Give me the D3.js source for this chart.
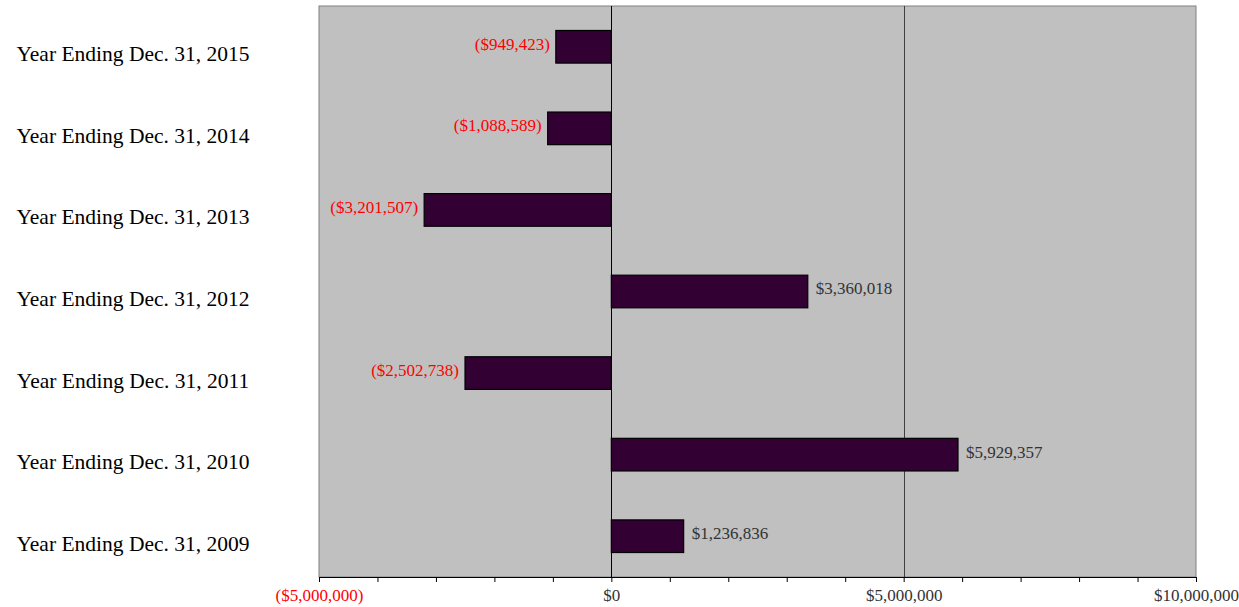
<!DOCTYPE html>
<html>
<head>
<meta charset="utf-8">
<script src="https://cdn.jsdelivr.net/npm/d3@7"></script>
<style>
  html, body { margin: 0; padding: 0; background: #fff; }
  svg { display: block; }
  text { font-family: "Liberation Serif", "Times New Roman", serif; }
</style>
</head>
<body>
<svg id="chart" width="1239" height="607"></svg>
<script>
const categories = [
  "Year Ending Dec. 31, 2015",
  "Year Ending Dec. 31, 2014",
  "Year Ending Dec. 31, 2013",
  "Year Ending Dec. 31, 2012",
  "Year Ending Dec. 31, 2011",
  "Year Ending Dec. 31, 2010",
  "Year Ending Dec. 31, 2009"
];
const values = [-949423, -1088589, -3201507, 3360018, -2502738, 5929357, 1236836];
const xDomain = [-5000000, 10000000];
const tickValues = d3.range(-5000000, 10000001, 1000000);
const labelledTicks = [-5000000, 0, 5000000, 10000000];
const gridValues = [0, 5000000];

const svg = d3.select("#chart");
const plotL = 319, plotR = 1196, plotT = 6, plotB = 577;

const x = d3.scaleLinear().domain(xDomain).range([plotL, plotR]);
const y = d3.scaleBand().domain(categories).range([plotT, plotB]).paddingInner(0.6).paddingOuter(0.3);

const money = v => {
  const s = "$" + d3.format(",")(Math.abs(v));
  return v < 0 ? "(" + s + ")" : s;
};

// plot area
svg.append("rect")
  .attr("x", plotL).attr("y", plotT)
  .attr("width", plotR - plotL).attr("height", plotB - plotT)
  .attr("fill", "#c0c0c0")
  .attr("stroke", "#808080").attr("stroke-width", 1);

// gridlines
svg.selectAll("line.grid").data(gridValues).enter().append("line")
  .attr("class", "grid")
  .attr("x1", d => Math.round(x(d)) + 0.5).attr("x2", d => Math.round(x(d)) + 0.5)
  .attr("y1", plotT).attr("y2", plotB)
  .attr("stroke", d => d === 0 ? "#000" : "#404040")
  .attr("stroke-width", 1);

// bars
svg.selectAll("rect.bar").data(values).enter().append("rect")
  .attr("class", "bar")
  .attr("x", d => x(Math.min(0, d)))
  .attr("y", (d, i) => y(categories[i]))
  .attr("width", d => Math.abs(x(d) - x(0)))
  .attr("height", y.bandwidth())
  .attr("fill", "#330033")
  .attr("stroke", "#000").attr("stroke-width", 1.2);

// value labels
svg.selectAll("text.val").data(values).enter().append("text")
  .attr("class", "val")
  .attr("x", d => d < 0 ? x(d) - 6 : x(d) + 8)
  .attr("y", (d, i) => y(categories[i]) + y.bandwidth() / 2 - 3)
  .attr("dy", "0.35em")
  .attr("text-anchor", d => d < 0 ? "end" : "start")
  .attr("font-size", "17px")
  .attr("fill", d => d < 0 ? "#ff0000" : "#333333")
  .text(money);

// category labels
svg.selectAll("text.cat").data(categories).enter().append("text")
  .attr("class", "cat")
  .attr("x", 133)
  .attr("y", d => y(d) + y.bandwidth() / 2 + 7)
  .attr("dy", "0.35em")
  .attr("text-anchor", "middle")
  .attr("font-size", "21.5px")
  .attr("fill", "#000")
  .text(d => d);

// x axis
const xAxis = d3.axisBottom(x)
  .tickValues(tickValues)
  .tickSize(5)
  .tickPadding(7)
  .tickFormat(d => labelledTicks.includes(d) ? money(d) : "");

const gx = svg.append("g")
  .attr("transform", `translate(0,${plotB})`)
  .call(xAxis);
gx.select(".domain").attr("stroke", "#000");
gx.selectAll(".tick line").attr("stroke", "#000");
gx.selectAll(".tick text")
  .attr("font-family", "Liberation Serif, Times New Roman, serif")
  .attr("font-size", "17px")
  .attr("fill", d => d < 0 ? "#ff0000" : "#333333");
</script>
</body>
</html>
